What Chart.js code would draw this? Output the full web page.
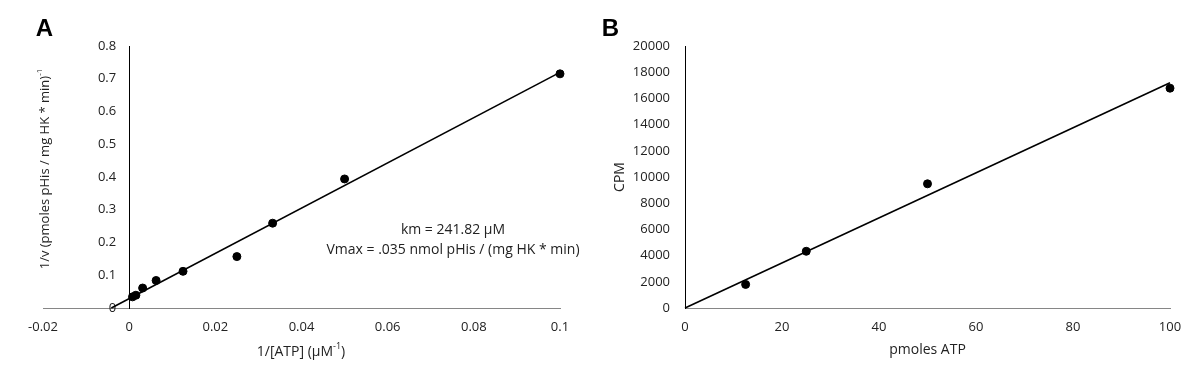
<!DOCTYPE html>
<html>
<head>
<meta charset="utf-8">
<script src="https://cdn.jsdelivr.net/npm/chart.js@4.4.1/dist/chart.umd.min.js"></script>
<style>
  html, body { margin: 0; padding: 0; background: #fff; }
  #wrap { position: relative; width: 1200px; height: 381px; overflow: hidden; }
  canvas { position: absolute; top: 0; }
  #cA { left: 0; }
  #cB { left: 600px; }
</style>
</head>
<body>
<div id="wrap">
  <canvas id="cA" width="600" height="381"></canvas>
  <canvas id="cB" width="600" height="381"></canvas>
</div>
<script>
// ---------- Panel A: Lineweaver-Burk ----------
const atpInv = [0.1, 0.05, 0.0333, 0.025, 0.0125, 0.00625, 0.003125, 0.0015625, 0.00078];
const vInv   = [0.715, 0.394, 0.259, 0.157, 0.112, 0.084, 0.061, 0.039, 0.034];
const fitAx  = [-0.00414, 0.1];
const fitAy  = [0, 0.7195];
const xTicksA = [-0.02, 0, 0.02, 0.04, 0.06, 0.08, 0.1];
const yTicksA = [0, 0.1, 0.2, 0.3, 0.4, 0.5, 0.6, 0.7, 0.8];

// ---------- Panel B: CPM vs pmoles ATP ----------
const pmolesATP = [12.5, 25, 50, 100];
const cpm       = [1800, 4330, 9480, 16780];
const fitBx     = [0, 100];
const fitBy     = [0, 17200];
const xTicksB = [0, 20, 40, 60, 80, 100];
const yTicksB = [0, 2000, 4000, 6000, 8000, 10000, 12000, 14000, 16000, 18000, 20000];

const FONT = "'Open Sans', 'Liberation Sans', sans-serif";
Chart.defaults.font.family = FONT;
Chart.defaults.font.size = 13;
Chart.defaults.color = '#222';

const pts = (xs, ys) => xs.map((x, i) => ({x: x, y: ys[i]}));
const fixTicks = (arr) => (scale) => { scale.ticks = arr.map(v => ({value: v})); };

// plugin drawing extra text (panel letters, axis titles, annotation)
function textPlugin(items) {
  return {
    id: 'texts',
    afterDraw(chart) {
      const ctx = chart.ctx;
      items.forEach(it => {
        ctx.save();
        ctx.fillStyle = it.color || '#222';
        ctx.textBaseline = 'middle';
        const fam = it.family || FONT;
        const mainFont = (it.bold ? 'bold ' : '') + it.size + 'px ' + fam;
        const supFont = Math.round(it.size * 0.62) + 'px ' + fam;
        ctx.font = mainFont;
        const w1 = ctx.measureText(it.text).width;
        const w3 = it.post ? ctx.measureText(it.post).width : 0;
        let w2 = 0;
        if (it.sup) { ctx.font = supFont; w2 = ctx.measureText(it.sup).width; }
        const total = w1 + w2 + w3;
        ctx.translate(it.x, it.y);
        if (it.rotate) ctx.rotate(-Math.PI / 2);
        ctx.textAlign = 'left';
        ctx.font = mainFont;
        ctx.fillText(it.text, -total / 2, 0);
        if (it.sup) {
          ctx.font = supFont;
          ctx.fillText(it.sup, -total / 2 + w1, -it.size * 0.38);
        }
        if (it.post) {
          ctx.font = mainFont;
          ctx.fillText(it.post, -total / 2 + w1 + w2, 0);
        }
        ctx.restore();
      });
    }
  };
}

// Move A's y axis so that it sits at x = 0
const moveYAxis = {
  id: 'moveY',
  afterLayout(chart) {
    const xs = chart.scales.x, ys = chart.scales.y;
    const px = xs.getPixelForValue(0);
    ys.right = px;
    ys.left = px - 60;
    ys.width = 60;
  }
};

const common = {
  responsive: false,
  animation: false,
  devicePixelRatio: 1,
  plugins: { legend: { display: false }, tooltip: { enabled: false } }
};

new Chart(document.getElementById('cA'), {
  type: 'scatter',
  data: {
    datasets: [
      { data: pts(atpInv, vInv), backgroundColor: '#000', borderColor: '#000', pointRadius: 4, pointHoverRadius: 4, clip: false, order: 1 },
      { type: 'line', data: pts(fitAx, fitAy), borderColor: '#000', borderWidth: 1.6, pointRadius: 0, fill: false, clip: false, order: 2 }
    ]
  },
  options: Object.assign({}, common, {
    layout: { padding: { left: 43, right: 40, top: 46, bottom: 0 } },
    scales: {
      x: {
        type: 'linear', position: 'bottom', min: -0.02, max: 0.1,
        afterBuildTicks: fixTicks(xTicksA),
        afterFit: (s) => { s.height = 73; },
        grid: { display: false, drawTicks: false },
        border: { display: true, color: '#868686', width: 1 },
        ticks: { padding: 11, callback: (v) => String(v) }
      },
      y: {
        type: 'linear', position: 'left', min: 0, max: 0.8,
        afterBuildTicks: fixTicks(yTicksA),
        afterFit: (s) => { s.width = 0; },
        grid: { display: false, drawTicks: false },
        border: { display: true, color: '#000', width: 1 },
        ticks: { padding: 13, callback: (v) => String(v) }
      }
    }
  }),
  plugins: [moveYAxis, textPlugin([
    { text: 'A', x: 44.5, y: 29, size: 24, bold: true, family: "'Liberation Sans', Arial, sans-serif", color: '#000' },
    { text: '1/v (pmoles pHis / mg HK * min)', sup: '-1', x: 45, y: 169, size: 13, rotate: true },
    { text: '1/[ATP] (\u00b5M', sup: '-1', post: ')', x: 301, y: 352, size: 14 },
    { text: 'km = 241.82 \u00b5M', x: 453, y: 230, size: 14 },
    { text: 'Vmax = .035 nmol pHis / (mg HK * min)', x: 453, y: 250, size: 14 }
  ])]
});

new Chart(document.getElementById('cB'), {
  type: 'scatter',
  data: {
    datasets: [
      { data: pts(pmolesATP, cpm), backgroundColor: '#000', borderColor: '#000', pointRadius: 4, pointHoverRadius: 4, clip: false, order: 1 },
      { type: 'line', data: pts(fitBx, fitBy), borderColor: '#000', borderWidth: 1.6, pointRadius: 0, fill: false, clip: false, order: 2 }
    ]
  },
  options: Object.assign({}, common, {
    layout: { padding: { left: 0, right: 30, top: 46, bottom: 0 } },
    scales: {
      x: {
        type: 'linear', position: 'bottom', min: 0, max: 100,
        afterBuildTicks: fixTicks(xTicksB),
        afterFit: (s) => { s.height = 73; },
        grid: { display: false, drawTicks: false },
        border: { display: true, color: '#868686', width: 1 },
        ticks: { padding: 11 }
      },
      y: {
        type: 'linear', position: 'left', min: 0, max: 20000,
        afterBuildTicks: fixTicks(yTicksB),
        afterFit: (s) => { s.width = 85; },
        grid: { display: false, drawTicks: false },
        border: { display: true, color: '#000', width: 1 },
        ticks: { padding: 15, callback: (v) => String(v) }
      }
    }
  }),
  plugins: [textPlugin([
    { text: 'B', x: 10.5, y: 29, size: 24, bold: true, family: "'Liberation Sans', Arial, sans-serif", color: '#000' },
    { text: 'CPM', x: 20, y: 177, size: 14, rotate: true },
    { text: 'pmoles ATP', x: 327.5, y: 350, size: 14 }
  ])]
});
</script>
</body>
</html>
